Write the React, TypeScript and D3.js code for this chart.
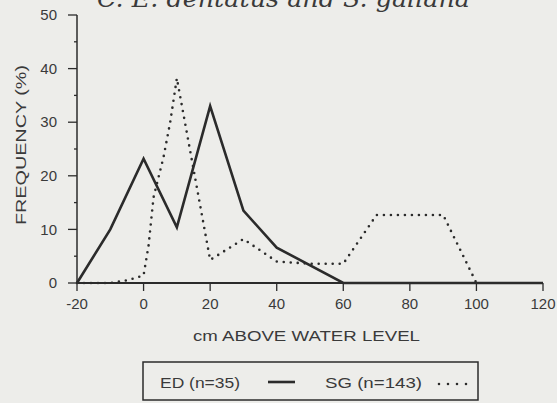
import { useEffect, useRef } from "react";
import * as d3 from "d3";

// ED (solid line)
const edX = [-20, -10, 0, 10, 20, 30, 40, 60, 80, 100, 120];
const edY = [0, 10, 23.2, 10.4, 33, 13.5, 6.6, 0, 0, 0, 0];

// SG (dotted line)
const sgX = [-20, -10, -5, 0, 1.5, 3, 6, 8, 10, 20, 30, 40, 50, 60, 70, 80, 90, 100];
const sgY = [0, 0, 0.5, 1.4, 7, 16, 23.5, 30, 38.2, 4.3, 8.2, 4, 3.6, 3.6, 12.7, 12.7, 12.7, 0];

const xTicks = [-20, 0, 20, 40, 60, 80, 100, 120];
const yTicks = [0, 10, 20, 30, 40, 50];
const yMinor = [5, 15, 25, 35, 45];

const W = 557;
const H = 403;

export default function App() {
  const ref = useRef<SVGSVGElement | null>(null);

  useEffect(() => {
    document.body.style.margin = "0";
    if (!ref.current) return;
    const svg = d3.select(ref.current);
    svg.selectAll("*").remove();

    const ink = "#2b2b2b";
    const txt = "#3a3a3a";
    const font = "'Liberation Sans', Arial, sans-serif";

    svg.append("rect").attr("width", W).attr("height", H).attr("fill", "#ededea");

    const x = d3.scaleLinear().domain([-20, 120]).range([77, 543]);
    const y = d3.scaleLinear().domain([0, 50]).range([283, 15]);

    // title, clipped by the top edge as in the scan
    svg.append("text")
      .attr("x", 97)
      .attr("y", 7)
      .attr("textLength", 373)
      .attr("lengthAdjust", "spacingAndGlyphs")
      .style("font-family", "'DejaVu Serif', serif")
      .style("font-style", "italic")
      .style("font-size", "24px")
      .attr("fill", txt)
      .text("C.  E. dentatus and S. gallana");

    // Y axis
    svg.append("line")
      .attr("x1", 77).attr("x2", 77)
      .attr("y1", y(50)).attr("y2", y(0))
      .attr("stroke", ink).attr("stroke-width", 1.5);

    yTicks.forEach(t => {
      svg.append("line")
        .attr("x1", 68).attr("x2", 77)
        .attr("y1", y(t)).attr("y2", y(t))
        .attr("stroke", ink).attr("stroke-width", 1.3);
      svg.append("text")
        .attr("x", 57)
        .attr("y", y(t))
        .attr("dy", "0.35em")
        .attr("text-anchor", "end")
        .style("font-family", font)
        .style("font-size", "15px")
        .attr("fill", txt)
        .text(t);
    });
    yMinor.forEach(t => {
      svg.append("line")
        .attr("x1", 74).attr("x2", 77)
        .attr("y1", y(t)).attr("y2", y(t))
        .attr("stroke", ink).attr("stroke-width", 1.3);
    });

    // X axis
    svg.append("line")
      .attr("x1", x(-20)).attr("x2", x(120))
      .attr("y1", y(0)).attr("y2", y(0))
      .attr("stroke", ink).attr("stroke-width", 1.8);

    xTicks.forEach(t => {
      svg.append("line")
        .attr("x1", x(t)).attr("x2", x(t))
        .attr("y1", y(0)).attr("y2", y(0) + 8)
        .attr("stroke", ink).attr("stroke-width", 1.3);
      svg.append("text")
        .attr("x", x(t))
        .attr("y", 309)
        .attr("text-anchor", "middle")
        .style("font-family", font)
        .style("font-size", "15px")
        .attr("fill", txt)
        .text(t);
    });

    // axis titles
    svg.append("text")
      .attr("x", 193)
      .attr("y", 341)
      .attr("textLength", 227)
      .attr("lengthAdjust", "spacingAndGlyphs")
      .style("font-family", font)
      .style("font-size", "14px")
      .attr("fill", txt)
      .text("cm ABOVE WATER LEVEL");

    svg.append("text")
      .attr("transform", "translate(26,225) rotate(-90)")
      .attr("textLength", 160)
      .attr("lengthAdjust", "spacingAndGlyphs")
      .style("font-family", font)
      .style("font-size", "15px")
      .attr("fill", txt)
      .text("FREQUENCY (%)");

    const line = d3.line<[number, number]>()
      .x(d => x(d[0]))
      .y(d => y(d[1]));

    // SG dotted
    svg.append("path")
      .attr("d", line(sgX.map((v, i) => [v, sgY[i]] as [number, number])))
      .attr("fill", "none")
      .attr("stroke", ink)
      .attr("stroke-width", 2.6)
      .attr("stroke-linecap", "round")
      .attr("stroke-dasharray", "0 7");

    // ED solid
    svg.append("path")
      .attr("d", line(edX.map((v, i) => [v, edY[i]] as [number, number])))
      .attr("fill", "none")
      .attr("stroke", ink)
      .attr("stroke-width", 2.6);

    // legend box
    svg.append("rect")
      .attr("x", 143).attr("y", 362)
      .attr("width", 335).attr("height", 38)
      .attr("fill", "none")
      .attr("stroke", ink)
      .attr("stroke-width", 1.5);

    svg.append("text")
      .attr("x", 160).attr("y", 388)
      .attr("textLength", 80)
      .attr("lengthAdjust", "spacingAndGlyphs")
      .style("font-family", font)
      .style("font-size", "15px")
      .attr("fill", txt)
      .text("ED (n=35)");
    svg.append("line")
      .attr("x1", 268).attr("x2", 295)
      .attr("y1", 382).attr("y2", 382)
      .attr("stroke", ink).attr("stroke-width", 2.6);
    svg.append("text")
      .attr("x", 325).attr("y", 388)
      .attr("textLength", 97)
      .attr("lengthAdjust", "spacingAndGlyphs")
      .style("font-family", font)
      .style("font-size", "15px")
      .attr("fill", txt)
      .text("SG (n=143)");
    svg.append("line")
      .attr("x1", 439).attr("x2", 467)
      .attr("y1", 384).attr("y2", 384)
      .attr("stroke", ink).attr("stroke-width", 2.6)
      .attr("stroke-linecap", "round")
      .attr("stroke-dasharray", "0 9");
  }, []);

  return <svg ref={ref} width={W} height={H} style={{ display: "block" }} />;
}
